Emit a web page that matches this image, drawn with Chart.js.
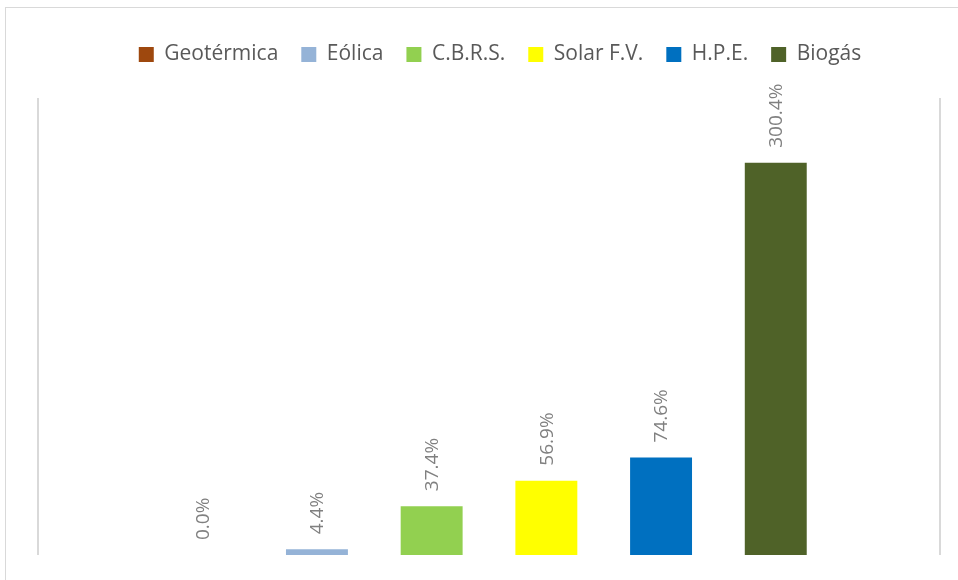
<!DOCTYPE html>
<html>
<head>
<meta charset="utf-8">
<script src="https://cdn.jsdelivr.net/npm/chart.js@4"></script>
<style>
  html, body { margin: 0; padding: 0; background: #fff; }
  #frame { position: absolute; left: 5px; top: 7px; width: 1000px; height: 600px; border: 1px solid #d9d9d9; }
  #wrap { position: absolute; left: 0; top: 0; width: 958px; height: 580px; }
</style>
</head>
<body>
<div id="frame"></div>
<div id="wrap"><canvas id="growthChart" width="958" height="580"></canvas></div>
<script>
var categories = [''];
var sources = ['Geotérmica', 'Eólica', 'C.B.R.S.', 'Solar F.V.', 'H.P.E.', 'Biogás'];
var growth = [0.0, 4.4, 37.4, 56.9, 74.6, 300.4];
var colors = ['#9e480e', '#95b3d7', '#92d050', '#ffff00', '#0070c0', '#4f6228'];

var datasets = sources.map(function (name, i) {
    return {
        label: name,
        data: [growth[i]],
        backgroundColor: colors[i],
        categoryPercentage: 0.763,
        barPercentage: 0.54
    };
});

// vertical value labels above each bar
var barLabels = {
    id: 'barLabels',
    afterDatasetsDraw: function (chart) {
        var ctx = chart.ctx;
        ctx.save();
        ctx.font = '19px "Open Sans"';
        ctx.fillStyle = '#808080';
        ctx.textAlign = 'left';
        ctx.textBaseline = 'middle';
        chart.data.datasets.forEach(function (ds, i) {
            var bar = chart.getDatasetMeta(i).data[0];
            ctx.save();
            ctx.translate(bar.x + 1, bar.y - 15);
            ctx.rotate(-Math.PI / 2);
            ctx.fillText(ds.data[0].toFixed(1) + '%', 0, 0);
            ctx.restore();
        });
        ctx.restore();
    }
};

// extra room under the legend, and nudge it right a little
var legendGap = {
    id: 'legendGap',
    afterInit: function (chart) {
        var legend = chart.legend;
        var fit = legend.fit;
        var draw = legend.draw;
        legend.fit = function () {
            fit.call(this);
            this.height += 23;
        };
        legend.draw = function () {
            this.ctx.save();
            this.ctx.translate(11, 0);
            draw.call(this);
            this.ctx.restore();
        };
    }
};

var ctx = document.getElementById('growthChart').getContext('2d');
var growthChart = new Chart(ctx, {
    type: 'bar',
    data: { labels: categories, datasets: datasets },
    options: {
        responsive: false,
        animation: false,
        layout: { padding: { left: 38, right: 18, top: 21, bottom: 25 } },
        plugins: {
            legend: {
                position: 'top',
                labels: {
                    boxWidth: 15,
                    boxHeight: 15,
                    padding: 23,
                    color: '#595959',
                    font: { family: 'Open Sans', size: 21 }
                }
            },
            tooltip: { enabled: false }
        },
        scales: {
            x: {
                display: true,
                ticks: { display: false },
                border: { display: false },
                grid: { offset: true, drawTicks: false, color: '#d9d9d9', lineWidth: 2 }
            },
            y: {
                display: false,
                min: 0,
                max: 350
            }
        }
    },
    plugins: [barLabels, legendGap]
});
</script>
</body>
</html>
